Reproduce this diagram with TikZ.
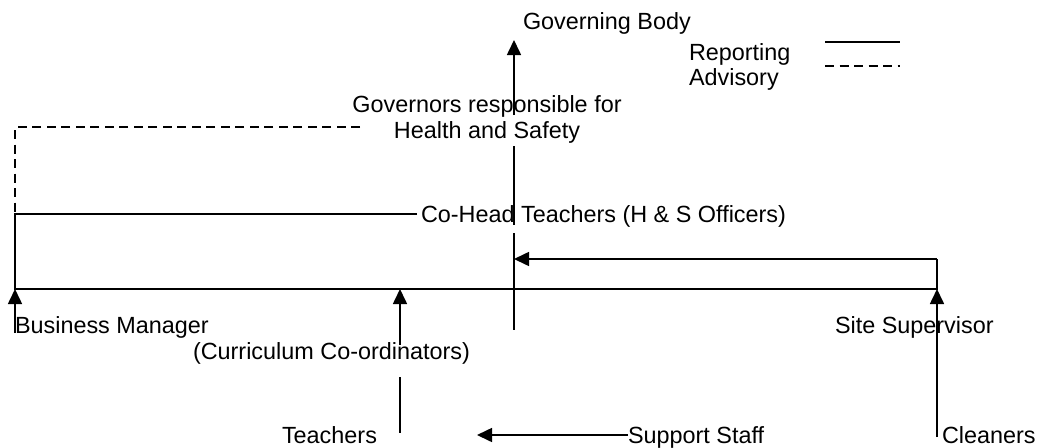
\documentclass[tikz,border=0pt]{standalone}
\usepackage{fontspec}
\setmainfont{Liberation Sans}
\usetikzlibrary{arrows.meta}
\begin{document}
\begin{tikzpicture}[x=1pt,y=-1pt,
  lbl/.style={inner sep=0pt, outer sep=0pt, font=\fontsize{23.4}{25.5}\selectfont},
  conn/.style={draw, line width=1.6pt},
  arr/.style={conn, -{Triangle[length=15pt,width=14pt]}},
  advisory/.style={conn, dash pattern=on 9pt off 5.5pt}]
\useasboundingbox (0,0) rectangle (1038,447);
% text
\node[lbl,anchor=base west] (gb) at (523,29) {Governing Body};
\node[lbl,anchor=base west] (rep) at (689,60) {Reporting};
\node[lbl,anchor=base west] (advis) at (689,85) {Advisory};
\node[lbl,anchor=north,align=center] (gov) at (487,96) {Governors responsible for\\Health and Safety};
\node[lbl,anchor=base west] (coh) at (421,222) {Co-Head Teachers (H \& S Officers)};
\node[lbl,anchor=base west] (bm) at (15,333) {Business Manager};
\node[lbl,anchor=base west] (cc) at (193,359) {(Curriculum Co-ordinators)};
\node[lbl,anchor=base west] (sup) at (835,333) {Site Supervisor};
\node[lbl,anchor=base west] (teach) at (282,443) {Teachers};
\node[lbl,anchor=base west] (ss) at (628,443) {Support Staff};
\node[lbl,anchor=base west] (clean) at (942,443) {Cleaners};
% legend
\coordinate (ls1) at (825,42); \coordinate (ls2) at (900,42);
\coordinate (ld1) at (825,66); \coordinate (ld2) at (900,66);
\draw[conn] (ls1) -- (ls2);
\draw[advisory] (ld1) -- (ld2);
% central vertical
\coordinate (gtip) at (514,40);
\coordinate (g1) at (514,115);
\coordinate (g2) at (514,146);
\coordinate (g3) at (514,225);
\coordinate (g4) at (514,233);
\coordinate (g5) at (514,330);
\coordinate (g6) at (514,259);
\draw[arr] (g1) -- (gtip);
\draw[conn] (g2) -- (g3);
\draw[conn] (g4) -- (g5);
% left structure
\coordinate (dA) at (360,127);
\coordinate (dB) at (15,127);
\coordinate (sA) at (417,214);
\coordinate (sB) at (15,214);
\coordinate (mL) at (15,289);
\coordinate (mR) at (937,289);
\coordinate (sT) at (937,259);
\draw[advisory] (dA) -- (dB) -- (sB);
\draw[conn] (sA) -- (sB) -- (mL) -- (mR) -- (sT);
\draw[arr] (sT) -- (g6);
% arrows from below
\coordinate (bmS) at (15,333);
\draw[arr] (bmS) -- (mL);
\coordinate (ccS) at (400,345);
\coordinate (ccT) at (400,289);
\draw[arr] (ccS) -- (ccT);
\coordinate (tA) at (400,377);
\coordinate (tB) at (400,433);
\draw[conn] (tA) -- (tB);
\coordinate (ssS) at (628,435);
\coordinate (ssT) at (477,435);
\draw[arr] (ssS) -- (ssT);
\coordinate (clS) at (937,437);
\draw[arr] (clS) -- (mR);
\end{tikzpicture}
\end{document}
